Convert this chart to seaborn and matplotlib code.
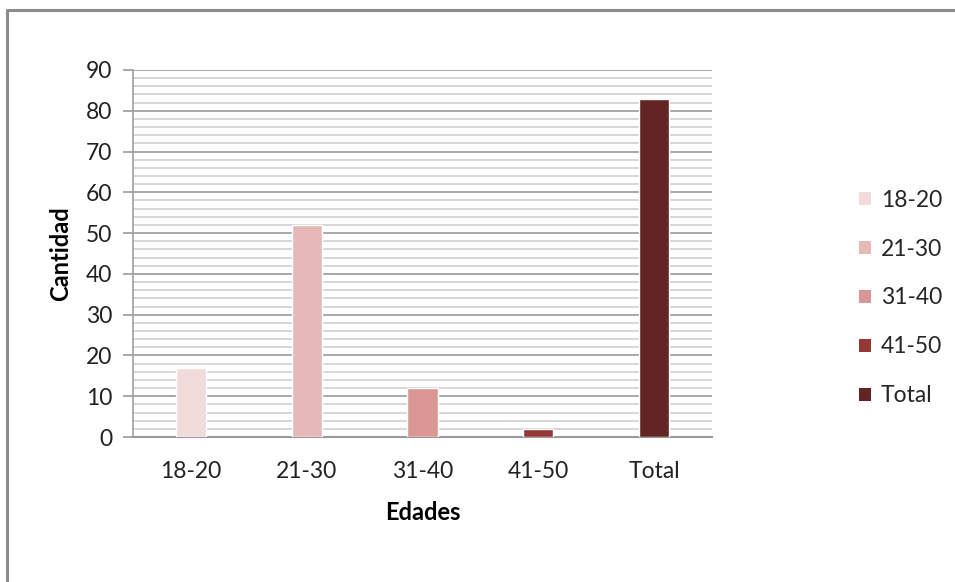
import matplotlib
matplotlib.use("Agg")
import matplotlib.pyplot as plt
import seaborn as sns
import pandas as pd
from matplotlib.patches import Rectangle
from matplotlib.lines import Line2D
from matplotlib.ticker import MultipleLocator

categories = ["18-20", "21-30", "31-40", "41-50", "Total"]
values = [17, 52, 12, 2, 83]
colors = ["#F2DCDB", "#E6B9B8", "#D99694", "#953735", "#632523"]
y_ticks = [0, 10, 20, 30, 40, 50, 60, 70, 80, 90]

sns.set_theme(style="white")
plt.rcParams["font.family"] = ["Lato", "DejaVu Sans"]

df = pd.DataFrame({"Edades": categories, "Cantidad": values, "Serie": categories})

fig = plt.figure(figsize=(9.55, 5.82), dpi=100)
ax = fig.add_axes([133/955, 1-437/582, (712-133)/955, (437-70)/582])

sns.barplot(data=df, x="Edades", y="Cantidad", hue="Serie", dodge=False,
            palette=dict(zip(categories, colors)), width=0.26, ax=ax,
            saturation=1, legend=False)

ax.set_ylim(0, 90)
ax.set_xlim(-0.5, 4.5)
ax.set_yticks(y_ticks)
ax.yaxis.set_minor_locator(MultipleLocator(2))
ax.grid(False)
for y in range(0, 91, 2):
    if y % 10 == 0:
        ax.axhline(y, color="#9A9A9A", lw=1.2, zorder=0)
    else:
        ax.axhline(y, color="#CFCFCF", lw=1.2, zorder=0)
for b in ax.patches:
    b.set_zorder(3)

for s in ["top", "right"]:
    ax.spines[s].set_visible(False)
ax.spines["left"].set_color("#A0A0A0")
ax.spines["left"].set_linewidth(1.2)
ax.spines["bottom"].set_color("#9A9A9A")
ax.spines["bottom"].set_linewidth(1.5)

ax.tick_params(axis="y", which="major", length=7, width=1.2, color="#9A9A9A",
               left=True, pad=8, labelsize=16.5, labelcolor="#222222")
ax.tick_params(axis="y", which="minor", length=0)
ax.tick_params(axis="x", length=0, pad=17, labelsize=16.5, labelcolor="#222222")

ax.set_xlabel("Edades", fontsize=17, fontweight="bold", labelpad=14, color="black")
ax.set_ylabel("Cantidad", fontsize=17, fontweight="bold", color="black")
ax.yaxis.set_label_coords(-61/579, 0.5)

handles = [Rectangle((0, 0), 1, 1, facecolor=c, edgecolor="none") for c in colors]
fig.legend(handles, categories, loc="center left", bbox_to_anchor=(850/955, 1-298/582),
           frameon=False, fontsize=16.5, handlelength=0.5, handleheight=0.5,
           handletextpad=0.45, labelspacing=1.22, borderaxespad=0)

fig.add_artist(Line2D([7/955, 7/955], [0, 1-10/582], transform=fig.transFigure,
                      color="#8C8C8C", lw=2.2))
fig.add_artist(Line2D([7/955, 1.0], [1-10/582, 1-10/582], transform=fig.transFigure,
                      color="#8C8C8C", lw=2.2))

fig.savefig("out.png", dpi=100)
